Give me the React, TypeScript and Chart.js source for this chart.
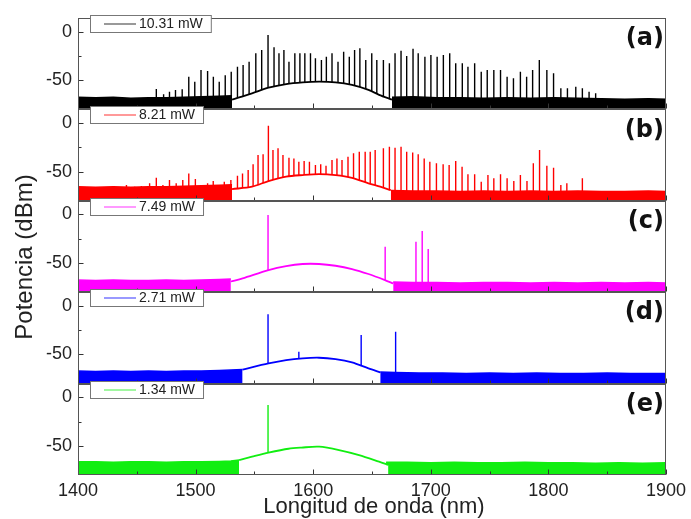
import React, { useEffect, useRef } from 'react';
import { Chart, registerables } from 'chart.js';

Chart.register(...registerables);

// ---------- axis ranges / ticks ----------
const Y_MIN = -80;
const Y_MAX = 14;
const xTickValues = [1400, 1450, 1500, 1550, 1600, 1650, 1700, 1750, 1800, 1850, 1900];
const yTickValues = [-50, -25, 0];

// ---------- panels ----------
const panelLetters = ['(a)', '(b)', '(c)', '(d)', '(e)'];
const powerLabels = ['10.31 mW', '8.21 mW', '7.49 mW', '2.71 mW', '1.34 mW'];
const seriesColors = ['#000000', '#ff0000', '#ff00ff', '#0000ff', '#11ee11'];

// ---------- (a) 10.31 mW ----------
const bandWlA = [1400, 1415, 1430, 1445, 1460, 1475, 1490, 1505, 1520, 1531, 1600, 1667, 1685, 1705, 1725, 1745, 1765, 1785, 1805, 1825, 1845, 1865, 1885, 1900];
const bandTopA = [-67.5, -68, -67.5, -68.5, -68, -68, -67.5, -67, -66.5, -66, null, -67.5, -67, -68, -68, -68.5, -68, -68.5, -68, -68.5, -69, -69.5, -69, -69.5];
const humpWlA = [1531, 1548, 1562, 1577, 1591, 1605, 1619, 1633, 1647, 1656, 1667];
const humpA = [-70, -63.5, -57.7, -53.9, -52.2, -51.5, -52.2, -54.9, -60, -65, -70];
const spikeWlA = [1466.6, 1472.8, 1477.8, 1482.9, 1488.6, 1494.2, 1499.3, 1504.6, 1510.2, 1515.1, 1520.1, 1525.2, 1530.3, 1535.6, 1540.4, 1545.5, 1551.2, 1556.2, 1561.6, 1566.7, 1570.9, 1575.1, 1579.4, 1584.4, 1588.7, 1592.9, 1597.7, 1601.9, 1607.0, 1611.2, 1616.0, 1621.1, 1625.9, 1630.7, 1635.2, 1639.7, 1644.7, 1649.8, 1654.1, 1659.7, 1664.8, 1669.6, 1674.7, 1679.5, 1684.9, 1689.3, 1695.0, 1700.1, 1705.4, 1710.7, 1716.1, 1721.2, 1726.8, 1731.6, 1737.3, 1742.9, 1748.0, 1753.6, 1759.3, 1764.9, 1770.3, 1776.2, 1781.5, 1786.6, 1792.3, 1798.7, 1804.4, 1810.6, 1816.2, 1823.3, 1828.9, 1834.6, 1840.2];
const spikeTopA = [-59, -64.5, -61.8, -60, -59.4, -46.4, -51.5, -39.5, -40.5, -46.4, -51.5, -45, -41.2, -36.1, -34.4, -31, -22.3, -18.9, -3.5, -16.2, -22.3, -18.9, -31, -22.3, -22.3, -22.3, -22.3, -27.5, -29.2, -25.8, -22.3, -31, -20.6, -25.8, -18.9, -17.2, -29.2, -22.3, -29.2, -29.2, -32.6, -22.3, -19.6, -25.1, -17.6, -22.3, -25.8, -24.1, -25.8, -24.1, -22.3, -32.6, -32.6, -36.1, -32.6, -41.2, -39.5, -39.5, -39.5, -46.4, -48, -41.2, -46.4, -39.5, -29.2, -39.5, -42.9, -58.3, -58.3, -56.7, -58.3, -61.8, -63.5];

// ---------- (b) 8.21 mW ----------
const bandWlB = [1400, 1415, 1430, 1445, 1460, 1475, 1490, 1505, 1520, 1531, 1600, 1666, 1685, 1705, 1725, 1745, 1765, 1785, 1805, 1825, 1845, 1865, 1885, 1900];
const bandTopB = [-65.5, -66, -65.5, -66, -65.5, -65.5, -65, -64.5, -64, -63.5, null, -69.5, -70, -70, -70.5, -70, -70.5, -70, -70.5, -70, -70.5, -70.5, -70, -70.5];
const humpWlB = [1531, 1548, 1562, 1577, 1591, 1605, 1619, 1633, 1647, 1657, 1666];
const humpB = [-68, -65.5, -59.7, -55.2, -53.5, -52.5, -53.5, -56.3, -62, -65.5, -69];
const spikeWlB = [1441.2, 1448.2, 1453.9, 1460.9, 1466.6, 1472.2, 1477.8, 1483.5, 1489.1, 1494.2, 1499.8, 1505.5, 1510.2, 1515.0, 1520.1, 1524.4, 1530.0, 1535.6, 1539.9, 1544.7, 1548.9, 1553.1, 1557.4, 1561.9, 1565.8, 1570.1, 1574.3, 1579.4, 1583.6, 1587.8, 1592.3, 1596.8, 1601.9, 1606.4, 1610.9, 1616.0, 1620.2, 1624.5, 1629.6, 1634.3, 1639.2, 1644.2, 1648.5, 1652.7, 1659.7, 1664.8, 1669.6, 1674.7, 1679.5, 1684.6, 1689.3, 1694.4, 1699.2, 1704.8, 1710.5, 1715.6, 1721.2, 1726.6, 1731.6, 1737.3, 1742.9, 1748.6, 1753.6, 1759.3, 1764.9, 1770.6, 1776.2, 1781.8, 1787.2, 1792.5, 1798.7, 1804.4, 1810.6, 1815.7, 1828.9];
const spikeTopB = [-63.8, -65.5, -64.8, -62, -56.3, -63.8, -58.6, -62, -58.6, -51.8, -57.6, -63.8, -62, -59.7, -63.8, -60.5, -58.6, -54.2, -51.8, -48.4, -42.5, -32.9, -32.2, -2.8, -27.8, -26, -32.9, -35.7, -36.4, -39.8, -39.1, -39.8, -43.2, -42.5, -43.9, -38, -36.4, -38, -34.6, -31.2, -29.5, -29.5, -29.5, -27.8, -26, -24.4, -25.5, -24.4, -29.5, -30.2, -32.2, -36.4, -39.8, -41.5, -42.5, -43.2, -39.1, -44.9, -52.8, -52.8, -60.4, -53.5, -56.9, -52.8, -56.9, -59.7, -53.5, -59.7, -41.5, -27.8, -43.9, -46, -63.8, -62, -56.9];

// ---------- (c) 7.49 mW ----------
const bandWlC = [1400, 1415, 1430, 1445, 1460, 1475, 1490, 1505, 1520, 1530, 1600, 1668, 1685, 1705, 1725, 1745, 1765, 1785, 1805, 1825, 1845, 1865, 1885, 1900];
const bandTopC = [-67.5, -68, -67.5, -68, -68, -67.5, -68, -67.5, -67, -66.5, null, -69.5, -70, -70, -70.5, -70, -70, -70.5, -70, -70.5, -70, -70.5, -70, -70.5];
const humpWlC = [1530, 1540, 1562, 1577, 1591, 1605, 1619, 1633, 1647, 1661, 1668];
const humpC = [-69, -65.7, -57.2, -53.1, -51, -51, -52.8, -56.2, -61.3, -67.5, -71];
const spikeWlC = [1561.6, 1661.2, 1687.4, 1692.7, 1697.8];
const spikeTopC = [-0.6, -33.2, -28.1, -17.1, -35.6];

// ---------- (d) 2.71 mW ----------
const bandWlD = [1400, 1415, 1430, 1445, 1460, 1475, 1490, 1505, 1520, 1530, 1540, 1600, 1657, 1670, 1690, 1710, 1730, 1750, 1770, 1790, 1810, 1830, 1850, 1870, 1900];
const bandTopD = [-67, -67.5, -67, -67.5, -67, -67.5, -67, -67, -66.5, -66, -65.5, null, -68, -68.5, -69, -69, -69.5, -69, -69.5, -69, -69.5, -69.5, -69, -69.5, -69.5];
const humpWlD = [1540, 1562, 1577, 1591, 1605, 1619, 1633, 1647, 1657];
const humpD = [-65.5, -59.2, -55.8, -54, -53.4, -54.8, -58.1, -64.3, -68.4];
const spikeWlD = [1561.6, 1587.8, 1640.8, 1670.1];
const spikeTopD = [-8.8, -47.2, -30, -26.6];

// ---------- (e) 1.34 mW ----------
const bandWlE = [1400, 1415, 1430, 1445, 1460, 1475, 1490, 1505, 1520, 1530, 1537, 1600, 1662, 1680, 1700, 1720, 1740, 1760, 1780, 1800, 1820, 1840, 1860, 1880, 1900];
const bandTopE = [-66.5, -66.5, -67, -66.5, -66.5, -67, -66.5, -66.5, -66, -65.5, -64.6, null, -67, -67, -67.5, -67, -67.5, -67.5, -67, -67.5, -67.5, -68, -67.5, -68, -67.5];
const humpWlE = [1537, 1548, 1562, 1579, 1590, 1605, 1622, 1639, 1656, 1664];
const humpE = [-64.6, -61.2, -57.1, -53, -51.8, -50.9, -54.3, -59.5, -66.3, -69.7];
const spikeWlE = [1561.6];
const spikeTopE = [-8];

const bandWls = [bandWlA, bandWlB, bandWlC, bandWlD, bandWlE];
const bandTops = [bandTopA, bandTopB, bandTopC, bandTopD, bandTopE];
const humpWls = [humpWlA, humpWlB, humpWlC, humpWlD, humpWlE];
const humpVals = [humpA, humpB, humpC, humpD, humpE];
const spikeWls = [spikeWlA, spikeWlB, spikeWlC, spikeWlD, spikeWlE];
const spikeTops = [spikeTopA, spikeTopB, spikeTopC, spikeTopD, spikeTopE];

const FONT = '"Liberation Sans", Arial, Helvetica, sans-serif';
const TEXT = '#222222';

const decorPlugin = {
  id: 'decor',
  afterDraw(chart: any) {
    const ctx = chart.ctx as CanvasRenderingContext2D;
    const xs = chart.scales.x;
    const { left, right } = chart.chartArea;
    const l = Math.round(left) + 0.5;
    const r = Math.round(right) - 0.5;
    ctx.save();
    // ticks and frames
    panelLetters.forEach((_, i) => {
      const ys = chart.scales['y' + i];
      const top = Math.round(ys.top) + 0.5;
      const bottom = Math.round(ys.bottom) - 0.5;
      ctx.strokeStyle = '#333';
      ctx.lineWidth = 1;
      ctx.beginPath();
      xTickValues.forEach((v) => {
        const px = Math.round(xs.getPixelForValue(v)) + 0.5;
        const len = v % 100 === 0 ? 5 : 3;
        ctx.moveTo(px, bottom);
        ctx.lineTo(px, bottom - len);
      });
      yTickValues.forEach((v) => {
        const py = Math.round(ys.getPixelForValue(v)) + 0.5;
        const len = v % 50 === 0 ? 5 : 3;
        ctx.moveTo(l, py);
        ctx.lineTo(l + len, py);
      });
      ctx.stroke();
      ctx.strokeStyle = '#555';
      ctx.strokeRect(l, top, r - l, bottom - top);
    });
    // legends and panel letters
    panelLetters.forEach((letter, i) => {
      const ys = chart.scales['y' + i];
      const top = Math.round(ys.top);
      ctx.font = `14px ${FONT}`;
      const tw = ctx.measureText(powerLabels[i]).width;
      const bx = 90.5;
      const by = top - 3 + 0.5;
      const bw = 139 - 90 + tw + 8;
      const bh = 17;
      ctx.fillStyle = '#ffffff';
      ctx.fillRect(bx, by, bw, bh);
      ctx.strokeStyle = '#777';
      ctx.lineWidth = 1;
      ctx.strokeRect(bx, by, bw, bh);
      ctx.strokeStyle = seriesColors[i];
      ctx.globalAlpha = 0.8;
      ctx.beginPath();
      ctx.moveTo(104, by + bh / 2);
      ctx.lineTo(136, by + bh / 2);
      ctx.stroke();
      ctx.globalAlpha = 1;
      ctx.fillStyle = TEXT;
      ctx.textAlign = 'left';
      ctx.textBaseline = 'middle';
      ctx.fillText(powerLabels[i], 139, by + bh / 2 + 0.5);

      ctx.font = `bold 24px "DejaVu Sans", sans-serif`;
      ctx.textAlign = 'right';
      ctx.textBaseline = 'middle';
      ctx.fillStyle = '#111';
      ctx.fillText(letter, right - 2, ys.top + 21);
    });
    // axis titles
    ctx.fillStyle = TEXT;
    ctx.font = `22px ${FONT}`;
    ctx.textAlign = 'center';
    ctx.textBaseline = 'middle';
    ctx.fillText('Longitud de onda (nm)', (left + right) / 2 + 2, 507);
    ctx.save();
    ctx.translate(25, 257);
    ctx.rotate(-Math.PI / 2);
    ctx.font = `24px ${FONT}`;
    ctx.fillText('Potencia (dBm)', 0, 0);
    ctx.restore();
    ctx.restore();
  },
};

export default function App() {
  const ref = useRef<HTMLCanvasElement>(null);

  useEffect(() => {
    if (!ref.current) return;
    const datasets: any[] = [];
    const scales: any = {
      x: {
        type: 'linear',
        min: 1400,
        max: 1900,
        offset: false,
        grid: { display: false, drawTicks: false },
        border: { display: false },
        ticks: {
          autoSkip: false,
          maxRotation: 0,
          padding: 5,
          color: TEXT,
          font: { family: FONT, size: 18 },
          callback: (v: any) => (Number(v) % 100 === 0 ? String(v) : ''),
        },
        afterBuildTicks: (s: any) => {
          s.ticks = xTickValues.map((v) => ({ value: v }));
        },
        afterFit: (s: any) => {
          s.height = 44;
        },
      },
    };

    // stacked left scales are laid out bottom-up, so register (e) first
    for (let i = panelLetters.length - 1; i >= 0; i--) {
      scales['y' + i] = {
        type: 'linear',
        position: 'left',
        stack: 'panels',
        stackWeight: 1,
        stacked: false,
        min: Y_MIN,
        max: Y_MAX,
        grid: { display: false, drawTicks: false },
        border: { display: false },
        ticks: {
          autoSkip: false,
          padding: 6,
          color: TEXT,
          font: { family: FONT, size: 18 },
          callback: (v: any) => (Number(v) % 50 === 0 ? String(v) : ''),
        },
        afterBuildTicks: (s: any) => {
          s.ticks = yTickValues.map((v) => ({ value: v }));
        },
        afterFit: (s: any) => {
          s.width = 78;
        },
      };
    }

    panelLetters.forEach((_, i) => {
      const yID = 'y' + i;
      const color = seriesColors[i];
      const spikeData: any[] = [];
      spikeWls[i].forEach((w, k) => {
        spikeData.push({ x: w, y: Y_MIN });
        spikeData.push({ x: w, y: spikeTops[i][k] });
        spikeData.push({ x: w, y: null });
      });
      datasets.push({
        type: 'line',
        label: powerLabels[i] + ' spikes',
        yAxisID: yID,
        xAxisID: 'x',
        data: spikeData,
        borderColor: color,
        borderWidth: 1.4,
        pointRadius: 0,
        spanGaps: false,
        fill: false,
        order: 3,
      });
      datasets.push({
        type: 'line',
        label: powerLabels[i] + ' floor',
        yAxisID: yID,
        xAxisID: 'x',
        data: bandWls[i].map((w, k) => ({ x: w, y: bandTops[i][k] })),
        borderColor: color,
        backgroundColor: color,
        borderWidth: 1.5,
        pointRadius: 0,
        spanGaps: false,
        fill: { value: Y_MIN },
        order: 2,
      });
      datasets.push({
        type: 'line',
        label: powerLabels[i] + ' ASE',
        yAxisID: yID,
        xAxisID: 'x',
        data: humpWls[i].map((w, k) => ({ x: w, y: humpVals[i][k] })),
        borderColor: color,
        backgroundColor: '#ffffff',
        borderWidth: 1.8,
        pointRadius: 0,
        tension: 0.3,
        fill: { value: Y_MIN },
        order: 1,
      });
    });

    const chart = new Chart(ref.current, {
      type: 'line',
      data: { datasets },
      options: {
        responsive: false,
        animation: false,
        events: [],
        layout: { padding: { top: 18, right: 22, left: 0, bottom: 0 } },
        plugins: {
          legend: { display: false },
          tooltip: { enabled: false },
          filler: { drawTime: 'beforeDatasetDraw', propagate: false },
        },
        scales,
      },
      plugins: [decorPlugin],
    } as any);
    return () => chart.destroy();
  }, []);

  return (
    <div style={{ position: 'absolute', left: 0, top: 0, width: 691, height: 519, background: '#fff' }}>
      <canvas ref={ref} width={691} height={519} style={{ display: 'block' }} />
    </div>
  );
}
